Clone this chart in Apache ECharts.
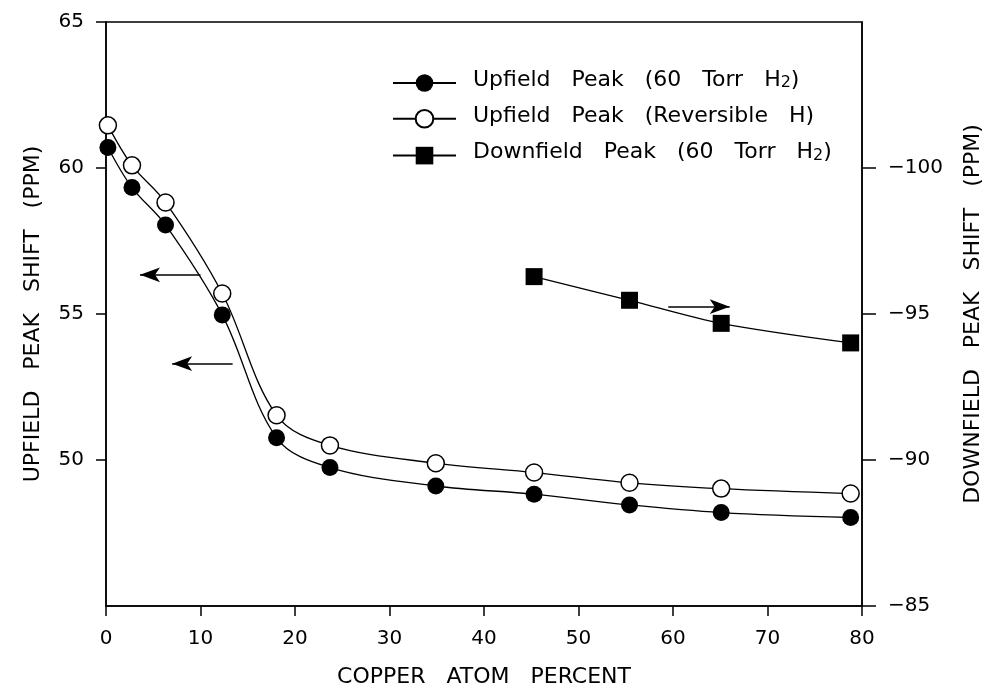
<!DOCTYPE html>
<html>
<head>
<meta charset="utf-8">
<script src="https://cdn.jsdelivr.net/npm/echarts@6/dist/echarts.min.js"></script>
<style>
  html, body { margin: 0; background: #fff; }
  #chart { width: 994px; height: 690px; }
</style>
</head>
<body>
<div id="chart"></div>
<script>
// values
const copperPct = [0.2, 2.75, 6.3, 12.3, 18.05, 23.7, 34.9, 45.3, 55.4, 65.1, 78.8];
const upfield60Torr = [60.7, 59.33, 58.05, 54.97, 50.76, 49.74, 49.11, 48.83, 48.46, 48.2, 48.03];
const upfieldReversible = [61.46, 60.09, 58.82, 55.7, 51.53, 50.5, 49.89, 49.57, 49.22, 49.02, 48.85];
const downfieldPct = [45.3, 55.4, 65.1, 78.8];
const downfield60Torr = [-96.28, -95.47, -94.68, -94.01];
const leftTicks = [50, 55, 60, 65];
const rightTicks = [-100, -95, -90, -85];

const FONT = 'DejaVu Sans';
const pairs = (xs, ys) => xs.map((x, i) => [x, ys[i]]);
// the original lettering has very wide word gaps
const wide = s => s.split(' ').join('   ');

const chart = echarts.init(document.getElementById('chart'), null, { renderer: 'canvas' });

const arrowLine = (from, to) => [{ coord: from }, { coord: to }];

const option = {
    backgroundColor: '#fff',
    animation: false,
    grid: {
        left: 106, right: 132, top: 22, bottom: 84,
        outerBoundsMode: 'none', containLabel: false,
        show: true, borderColor: '#000', borderWidth: 1.5, backgroundColor: 'transparent'
    },
    legend: {
        orient: 'vertical',
        left: 392, top: 69, padding: 0,
        itemWidth: 63, itemHeight: 22, itemGap: 13,
        selectedMode: false,
        formatter: function (name) {
            if (name.endsWith('H2)')) {
                return '{a|' + wide(name.slice(0, -3)) + 'H}{sub|2}{a|)}';
            }
            return '{a|' + wide(name) + '}';
        },
        textStyle: {
            color: '#000', fontFamily: FONT, fontSize: 22, padding: [0, 0, 0, 12],
            rich: {
                a: { fontFamily: FONT, fontSize: 22, color: '#000', padding: [0, 0, 6, 0] },
                sub: { fontFamily: FONT, fontSize: 16, color: '#000' }
            }
        },
        data: ['Upfield Peak (60 Torr H2)', 'Upfield Peak (Reversible H)', 'Downfield Peak (60 Torr H2)']
    },
    xAxis: {
        type: 'value', min: 0, max: 80, interval: 10,
        name: wide('COPPER ATOM PERCENT'), nameLocation: 'middle', nameGap: 60,
        nameTextStyle: { color: '#000', fontFamily: FONT, fontSize: 22 },
        axisLine: { lineStyle: { color: '#000', width: 1.5 } },
        axisTick: { show: true, inside: false, length: 10, lineStyle: { color: '#000', width: 1.5 } },
        axisLabel: { color: '#000', fontFamily: FONT, fontSize: 20, margin: 23 },
        splitLine: { show: false }
    },
    yAxis: [{
        type: 'value', position: 'left', min: 45, max: 65, interval: 5,
        name: wide('UPFIELD PEAK SHIFT (PPM)'), nameLocation: 'middle', nameGap: 62, nameRotate: 90,
        nameTextStyle: { color: '#000', fontFamily: FONT, fontSize: 22 },
        axisLine: { show: true, lineStyle: { color: '#000', width: 1.5 } },
        axisTick: { show: true, length: 10, customValues: leftTicks, lineStyle: { color: '#000', width: 1.5 } },
        axisLabel: { color: '#000', fontFamily: FONT, fontSize: 20, margin: 22, customValues: leftTicks },
        splitLine: { show: false }
    }, {
        type: 'value', position: 'right', min: -105, max: -85, interval: 5, inverse: true,
        name: wide('DOWNFIELD PEAK SHIFT (PPM)'), nameLocation: 'middle', nameGap: 100, nameRotate: 90,
        nameTextStyle: { color: '#000', fontFamily: FONT, fontSize: 22 },
        axisLine: { show: true, lineStyle: { color: '#000', width: 1.5 } },
        axisTick: { show: true, length: 14, customValues: rightTicks, lineStyle: { color: '#000', width: 1.5 } },
        axisLabel: {
            color: '#000', fontFamily: FONT, fontSize: 20, margin: 26, customValues: rightTicks,
            formatter: v => '\u2212' + Math.abs(v)
        },
        splitLine: { show: false }
    }],
    series: [{
        name: 'Upfield Peak (60 Torr H2)',
        type: 'line', yAxisIndex: 0, smooth: 0.35,
        data: pairs(copperPct, upfield60Torr),
        symbol: 'circle', symbolSize: 17,
        itemStyle: { color: '#000' },
        lineStyle: { color: '#000', width: 1.3 },
        markLine: {
            silent: true, symbol: ['none', 'arrow'], symbolSize: [11, 20],
            label: { show: false },
            lineStyle: { color: '#000', width: 1.5, type: 'solid' },
            data: [arrowLine([10, 56.34], [3.6, 56.34]), arrowLine([13.4, 53.3], [7.0, 53.3])]
        }
    }, {
        name: 'Upfield Peak (Reversible H)',
        type: 'line', yAxisIndex: 0, smooth: 0.35,
        data: pairs(copperPct, upfieldReversible),
        symbol: 'circle', symbolSize: 17,
        itemStyle: { color: '#fff', borderColor: '#000', borderWidth: 1.5 },
        lineStyle: { color: '#000', width: 1.3 }
    }, {
        name: 'Downfield Peak (60 Torr H2)',
        type: 'line', yAxisIndex: 1, smooth: 0.3,
        data: pairs(downfieldPct, downfield60Torr),
        symbol: 'rect', symbolSize: 17,
        itemStyle: { color: '#000' },
        lineStyle: { color: '#000', width: 1.3 },
        markLine: {
            silent: true, symbol: ['none', 'arrow'], symbolSize: [11, 20],
            label: { show: false },
            lineStyle: { color: '#000', width: 1.5, type: 'solid' },
            data: [arrowLine([59.5, -95.25], [66.0, -95.25])]
        }
    }]
};

chart.setOption(option);
</script>
</body>
</html>
